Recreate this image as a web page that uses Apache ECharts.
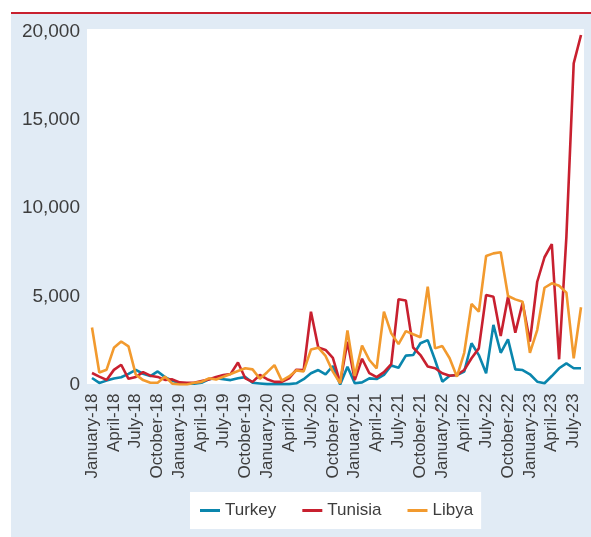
<!DOCTYPE html>
<html><head><meta charset="utf-8">
<script src="https://cdn.jsdelivr.net/npm/echarts@6/dist/echarts.min.js"></script>
<style>
html,body{margin:0;padding:0;background:#fff;}
#bg{position:absolute;left:11px;top:14px;width:580px;height:523px;background:#e1ebf5;}
#rule{position:absolute;left:11px;top:12px;width:580px;height:2px;background:#c8202f;}
#chart{position:absolute;left:0;top:0;width:591px;height:537px;}
</style></head>
<body>
<div id="bg"></div><div id="rule"></div><div id="chart"></div>
<script>
const monthNames = ['January','February','March','April','May','June','July','August','September','October','November','December'];
const years = ['18','19','20','21','22','23'];
const pointCount = 68;
const categories = [];
years.forEach(y => monthNames.forEach(m => categories.push(m + '-' + y)));
categories.length = pointCount;

const seriesNames = ['Turkey','Tunisia','Libya'];
const turkey = [370,90,220,340,410,600,830,610,480,740,420,220,60,50,50,100,300,350,300,250,350,420,100,60,20,20,20,20,70,300,640,820,580,1050,0,1010,70,120,350,310,540,1080,950,1640,1670,2340,2520,1390,160,500,540,730,2340,1670,640,3380,1800,2560,860,820,580,160,70,480,920,1200,920,920];
const tunisia = [650,450,260,830,1120,320,430,700,500,430,260,290,120,100,100,200,280,430,540,600,1250,350,150,540,300,150,150,350,840,820,4130,2100,1960,1510,100,2430,250,1460,640,420,700,1150,4840,4770,2100,1670,1020,920,640,500,540,820,1490,2050,5080,4980,2750,4980,2940,4640,2430,5830,7220,7970,1430,8390,18220,19830];
const libya = [3230,680,840,2080,2440,2160,560,250,100,100,450,50,0,0,100,150,350,280,440,600,770,920,860,330,700,1100,220,460,800,740,1980,2090,1620,730,70,3070,480,2210,1390,920,4130,2900,2290,3030,2850,2680,5550,2050,2180,1490,440,1800,4570,4130,7290,7440,7500,5020,4830,4700,1800,3090,5490,5740,5600,5210,1490,4380];
const yMax = 20000;
const yStep = 5000;

const colors = ['#0a86ad','#c8202f','#f29a2e'];
const font = 'Liberation Sans, Arial, sans-serif';
const textColor = '#3d3d3d';

const chart = echarts.init(document.getElementById('chart'), null, {renderer:'canvas'});
chart.setOption({
  animation:false,
  backgroundColor:'transparent',
  color: colors,
  graphic:{elements:[{type:'rect', left:87, top:29, shape:{width:497, height:355}, style:{fill:'#ffffff'}, z:-10, silent:true}]},
  grid:{left:92, right:10, top:32, bottom:152.5, containLabel:false},
  xAxis:{
    type:'category', data:categories, boundaryGap:false,
    axisLine:{show:false}, axisTick:{show:false},
    axisLabel:{interval:2, rotate:90, margin:9, fontSize:17, color:textColor, fontFamily:font}
  },
  yAxis:{
    type:'value', min:0, max:yMax, interval:yStep,
    axisLine:{show:false}, axisTick:{show:false}, splitLine:{show:false},
    axisLabel:{margin:12, fontSize:19, color:textColor, fontFamily:font,
      formatter: v => v.toLocaleString('en-US')}
  },
  legend:{
    data:seriesNames, left:190, top:492, icon:'rect', itemWidth:20, itemHeight:3, itemGap:26,
    backgroundColor:'#ffffff', padding:[10,8,10,10],
    textStyle:{fontSize:17, color:textColor, fontFamily:font}
  },
  series:[
    {name:seriesNames[0], type:'line', data:turkey, showSymbol:false, symbol:'none', lineStyle:{width:2.6}},
    {name:seriesNames[1], type:'line', data:tunisia, showSymbol:false, symbol:'none', lineStyle:{width:2.6}},
    {name:seriesNames[2], type:'line', data:libya, showSymbol:false, symbol:'none', lineStyle:{width:2.6}}
  ]
});
</script>
</body></html>
